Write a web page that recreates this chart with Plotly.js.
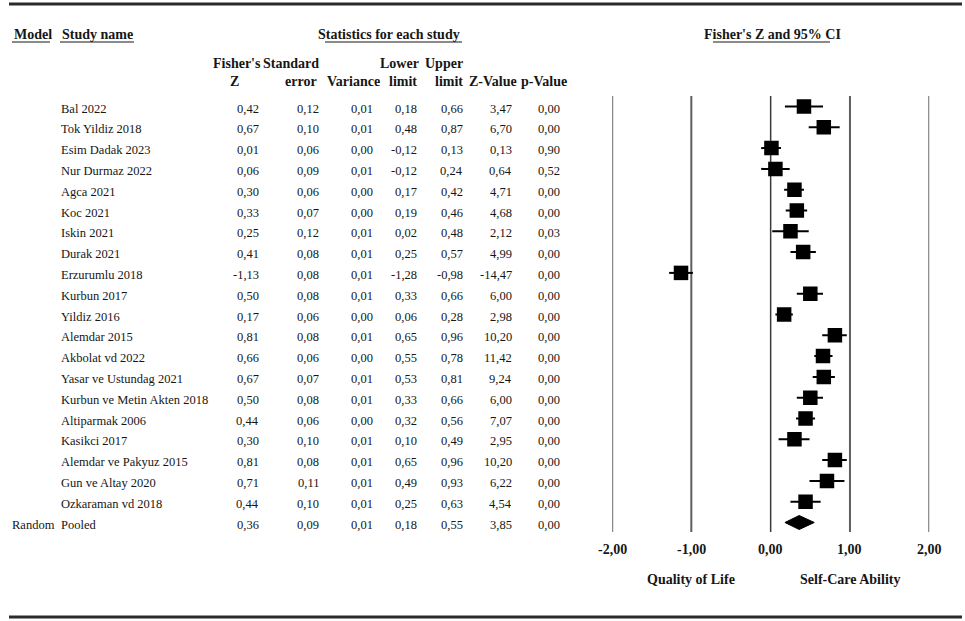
<!DOCTYPE html>
<html>
<head>
<meta charset="utf-8">
<script src="https://cdn.plot.ly/plotly-3.0.1.min.js"></script>
<style>html,body{margin:0;padding:0;background:#fff;}#chart{width:965px;height:621px;}</style>
</head>
<body>
<div id="chart"></div>
<script>
// ---------- data ----------
const studies = ["Bal 2022","Tok Yildiz 2018","Esim Dadak 2023","Nur Durmaz 2022","Agca 2021","Koc 2021","Iskin 2021","Durak 2021","Erzurumlu 2018","Kurbun 2017","Yildiz 2016","Alemdar 2015","Akbolat vd 2022","Yasar ve Ustundag 2021","Kurbun ve Metin Akten 2018","Altiparmak 2006","Kasikci 2017","Alemdar ve Pakyuz 2015","Gun ve Altay 2020","Ozkaraman vd 2018"];
const fisherZ   = [0.42,0.67,0.01,0.06,0.30,0.33,0.25,0.41,-1.13,0.50,0.17,0.81,0.66,0.67,0.50,0.44,0.30,0.81,0.71,0.44];
const stdError  = [0.12,0.10,0.06,0.09,0.06,0.07,0.12,0.08,0.08,0.08,0.06,0.08,0.06,0.07,0.08,0.06,0.10,0.08,0.11,0.10];
const variance  = [0.01,0.01,0.00,0.01,0.00,0.00,0.01,0.01,0.01,0.01,0.00,0.01,0.00,0.01,0.01,0.00,0.01,0.01,0.01,0.01];
const lowerLim  = [0.18,0.48,-0.12,-0.12,0.17,0.19,0.02,0.25,-1.28,0.33,0.06,0.65,0.55,0.53,0.33,0.32,0.10,0.65,0.49,0.25];
const upperLim  = [0.66,0.87,0.13,0.24,0.42,0.46,0.48,0.57,-0.98,0.66,0.28,0.96,0.78,0.81,0.66,0.56,0.49,0.96,0.93,0.63];
const zValue    = [3.47,6.70,0.13,0.64,4.71,4.68,2.12,4.99,-14.47,6.00,2.98,10.20,11.42,9.24,6.00,7.07,2.95,10.20,6.22,4.54];
const pValue    = [0.00,0.00,0.90,0.52,0.00,0.00,0.03,0.00,0.00,0.00,0.00,0.00,0.00,0.00,0.00,0.00,0.00,0.00,0.00,0.00];
const pooledModel = "Random";
const pooledName  = "Pooled";
const pooledVals  = {z:0.36, se:0.09, v:0.01, lo:0.18, hi:0.55, zv:3.85, p:0.00};
const tickValues  = [-2,-1,0,1,2];
const tickLabels  = ["-2,00","-1,00","0,00","1,00","2,00"];
const leftLabel   = "Quality of Life";
const rightLabel  = "Self-Care Ability";

// ---------- layout helpers ----------
const W = 965, H = 621;
const ROW0 = 106.5, ROWH = 20.8;
const px = v => v / W;
const py = v => 1 - v / H;
const fmt = v => v.toFixed(2).replace('.', ',').replace('-0,00','0,00');
const serif = "'Liberation Serif', 'Times New Roman', serif";
const TXT = '#161616';
const BODY = 12.5;

const n = studies.length;
const rows = studies.map((_, i) => i);
const pooledRow = n;

const annotations = [];
function ann(text, x, y, opts) {
  annotations.push(Object.assign({
    text: text, x: x, y: y, xref: 'paper', yref: 'paper', showarrow: false,
    xanchor: 'left', yanchor: 'middle',
    font: {family: serif, size: BODY, color: TXT}
  }, opts || {}));
}
function boldAnn(text, x, y, opts) {
  ann('<b>' + text + '</b>', x, y, Object.assign({font: {family: serif, size: 14, color: TXT}}, opts || {}));
}

// column headers
boldAnn('Model', px(12), py(34));
boldAnn('Study name', px(60), py(34));
boldAnn('Statistics for each study', px(389), py(34), {xanchor: 'center'});
boldAnn("Fisher's Z and 95% CI", px(772), py(34), {xanchor: 'center'});

boldAnn("Fisher's", px(237), py(63), {xanchor: 'center'});
boldAnn('Standard', px(321), py(63), {xanchor: 'right'});
boldAnn('Lower', px(421), py(63), {xanchor: 'right'});
boldAnn('Upper', px(465), py(63), {xanchor: 'right'});
boldAnn('Z', px(234), py(81), {xanchor: 'center'});
boldAnn('error', px(319), py(81), {xanchor: 'right'});
boldAnn('Variance', px(382), py(81), {xanchor: 'right'});
boldAnn('limit', px(419), py(81), {xanchor: 'right'});
boldAnn('limit', px(465), py(81), {xanchor: 'right'});
boldAnn('Z-Value', px(467), py(81), {xanchor: 'left'});
boldAnn('p-Value', px(569), py(81), {xanchor: 'right'});

// table body (rows tied to the y axis)
const colRight = [261, 321, 375, 419, 465, 514, 562];
function rowAnn(text, xpix, row, anchor) {
  annotations.push({
    text: text, x: px(xpix), y: row, xref: 'paper', yref: 'y', showarrow: false,
    xanchor: anchor, yanchor: 'middle', yshift: -2,
    font: {family: serif, size: BODY, color: TXT}
  });
}
rows.forEach(i => {
  rowAnn(studies[i], 59, i, 'left');
  const vals = [fisherZ[i], stdError[i], variance[i], lowerLim[i], upperLim[i], zValue[i], pValue[i]];
  vals.forEach((v, k) => rowAnn(fmt(v), colRight[k], i, 'right'));
});
rowAnn(pooledModel, 10, pooledRow, 'left');
rowAnn(pooledName, 59, pooledRow, 'left');
[pooledVals.z, pooledVals.se, pooledVals.v, pooledVals.lo, pooledVals.hi, pooledVals.zv, pooledVals.p]
  .forEach((v, k) => rowAnn(fmt(v), colRight[k], pooledRow, 'right'));

// x tick labels and direction labels
tickValues.forEach((t, k) => {
  annotations.push({
    text: '<b>' + tickLabels[k] + '</b>', x: t, y: py(549), xref: 'x', yref: 'paper',
    showarrow: false, xanchor: 'center', yanchor: 'middle',
    font: {family: serif, size: 14, color: TXT}
  });
});
annotations.push({text: '<b>' + leftLabel + '</b>', x: -1, y: py(579), xref: 'x', yref: 'paper',
  showarrow: false, xanchor: 'center', yanchor: 'middle', font: {family: serif, size: 14, color: TXT}});
annotations.push({text: '<b>' + rightLabel + '</b>', x: 1, y: py(579), xref: 'x', yref: 'paper',
  showarrow: false, xanchor: 'center', yanchor: 'middle', font: {family: serif, size: 14, color: TXT}});

// shapes: rules, underlines, reference lines
const shapes = [];
function hline(x0, x1, y, w, c) {
  shapes.push({type: 'line', xref: 'paper', yref: 'paper', x0: px(x0), x1: px(x1), y0: py(y), y1: py(y),
    line: {color: c, width: w}});
}
hline(9, 962, 4, 3, '#2b2b2b');
hline(9, 962, 617, 3, '#2b2b2b');
hline(12, 50, 42, 1, TXT);
hline(60, 134, 42, 1, TXT);
hline(325, 462, 42, 1, TXT);
hline(713, 830, 42, 1, TXT);

const yTop = (96 - ROW0) / ROWH, yBot = (532 - ROW0) / ROWH;
tickValues.forEach(t => {
  const outer = Math.abs(t) === 2, zero = t === 0;
  shapes.push({type: 'line', xref: 'x', yref: 'y', x0: t, x1: t, y0: yTop, y1: yBot, layer: 'below',
    line: {color: zero ? '#3a3a3a' : (outer ? '#8a8a8a' : '#5e5e5e'), width: zero ? 1.5 : (outer ? 2.5 : 2)}});
});

// ---------- traces ----------
const studyTrace = {
  type: 'scatter', mode: 'markers', x: fisherZ, y: rows,
  marker: {symbol: 'square', size: 14.5, color: '#000'},
  error_x: {type: 'data', symmetric: false,
    array: upperLim.map((u, i) => u - fisherZ[i]),
    arrayminus: lowerLim.map((l, i) => fisherZ[i] - l),
    color: '#000', thickness: 2, width: 0},
  hoverinfo: 'skip', showlegend: false
};
const dh = 7 / ROWH;
const diamond = {
  type: 'scatter', mode: 'lines', fill: 'toself', fillcolor: '#000',
  x: [pooledVals.lo, pooledVals.z, pooledVals.hi, pooledVals.z, pooledVals.lo],
  y: [pooledRow, pooledRow - dh, pooledRow, pooledRow + dh, pooledRow],
  line: {color: '#000', width: 1}, hoverinfo: 'skip', showlegend: false
};

const layout = {
  width: W, height: H,
  margin: {l: 0, r: 0, t: 0, b: 0, pad: 0},
  paper_bgcolor: '#fff', plot_bgcolor: 'rgba(0,0,0,0)',
  xaxis: {domain: [612 / W, 929.3 / W], range: [-2, 2], visible: false, fixedrange: true},
  yaxis: {domain: [0, 1], range: [(H - ROW0) / ROWH, -ROW0 / ROWH], visible: false, fixedrange: true},
  annotations: annotations,
  shapes: shapes,
  showlegend: false
};

Plotly.newPlot('chart', [studyTrace, diamond], layout, {displayModeBar: false, staticPlot: true});
</script>
</body>
</html>
